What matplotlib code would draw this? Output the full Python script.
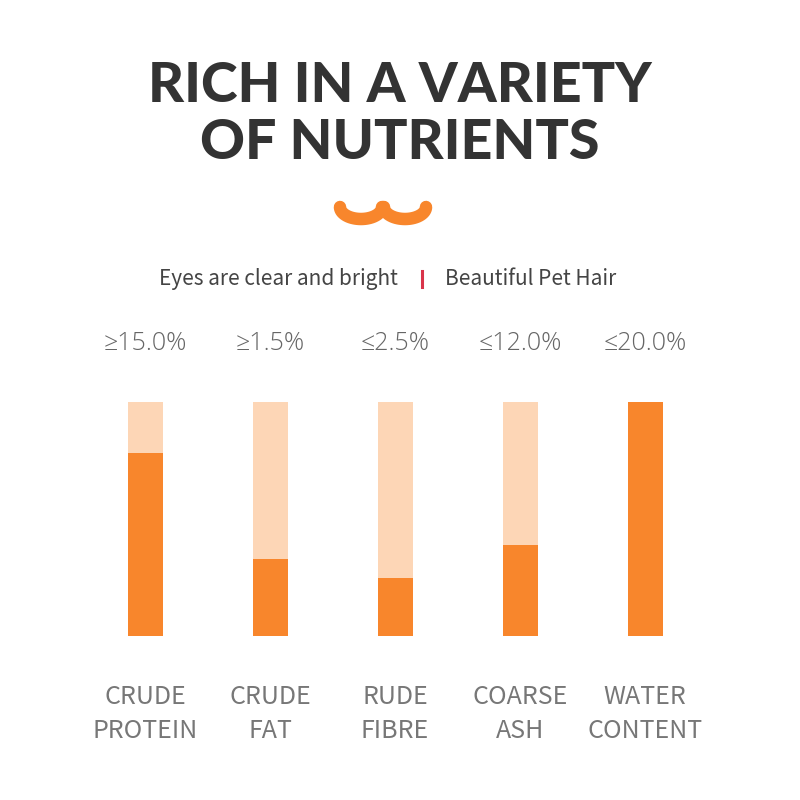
import matplotlib
matplotlib.use('Agg')
import matplotlib.pyplot as plt
import matplotlib.transforms as mtransforms
import numpy as np

# Data
categories = ['CRUDE\nPROTEIN', 'CRUDE\nFAT', 'RUDE\nFIBRE', 'COARSE\nASH', 'WATER\nCONTENT']
value_labels = ['≥15.0%', '≥1.5%', '≤2.5%', '≤12.0%', '≤20.0%']
fill_share = [0.78, 0.33, 0.25, 0.39, 1.0]  # filled part of each bar
track = [1.0, 1.0, 1.0, 1.0, 1.0]

dark_orange = '#F8862C'
light_orange = '#FDD6B6'
text_gray = '#666666'

plt.rcParams['font.family'] = ['Noto Sans CJK SC', 'DejaVu Sans']

fig = plt.figure(figsize=(8, 8), dpi=100)
fig.patch.set_facecolor('white')

# Title
fig.text(0.5, 1 - 86 / 800, 'RICH IN A VARIETY', ha='center', va='center',
         fontsize=40, fontweight='black', color='#333333', family=['Lato', 'DejaVu Sans'])
fig.text(0.5, 1 - 143 / 800, 'OF NUTRIENTS', ha='center', va='center',
         fontsize=40, fontweight='black', color='#333333', family=['Lato', 'DejaVu Sans'])

# Orange squiggle decoration
deco = fig.add_axes([0, 0, 1, 1], facecolor='none')
deco.set_xlim(0, 800)
deco.set_ylim(800, 0)
deco.axis('off')
t = np.linspace(0, np.pi, 40)
left_x = 361 - 21 * np.cos(t)
left_y = 207 + 12 * np.sin(t)
right_x = 405 - 21 * np.cos(t)
right_y = 207 + 12 * np.sin(t)
deco.plot(left_x, left_y, color=dark_orange, lw=9, solid_capstyle='round')
deco.plot(right_x, right_y, color=dark_orange, lw=9, solid_capstyle='round')

# Subtitle
fig.text(398 / 800, 1 - 279 / 800, 'Eyes are clear and bright', ha='right', va='center',
         fontsize=15, color='#444444', fontweight='light')
fig.text(445 / 800, 1 - 279 / 800, 'Beautiful Pet Hair', ha='left', va='center',
         fontsize=15, color='#444444', fontweight='light')
deco.plot([422, 422], [271, 287], color='#D9344A', lw=2.2)

# Bars
ax = fig.add_axes([0, 164 / 800, 1, 234 / 800])
x = np.arange(len(categories))
ax.bar(x, track, width=0.28, color=light_orange)
ax.bar(x, fill_share, width=0.28, color=dark_orange)
ax.set_xlim(-1.16, 5.24)
ax.set_ylim(0, 1)
ax.axis('off')

trans = mtransforms.blended_transform_factory(ax.transData, fig.transFigure)
for i in x:
    ax.text(i, 1 - 344 / 800, value_labels[i], transform=trans, ha='center', va='center',
            fontsize=18, color=text_gray, fontweight='light', family=['Open Sans', 'DejaVu Sans'])
    ax.text(i, 1 - 714 / 800, categories[i], transform=trans, ha='center', va='center',
            fontsize=18, color='#777777', fontweight='light', linespacing=1.45)

fig.savefig('out.png', dpi=100, facecolor='white')
